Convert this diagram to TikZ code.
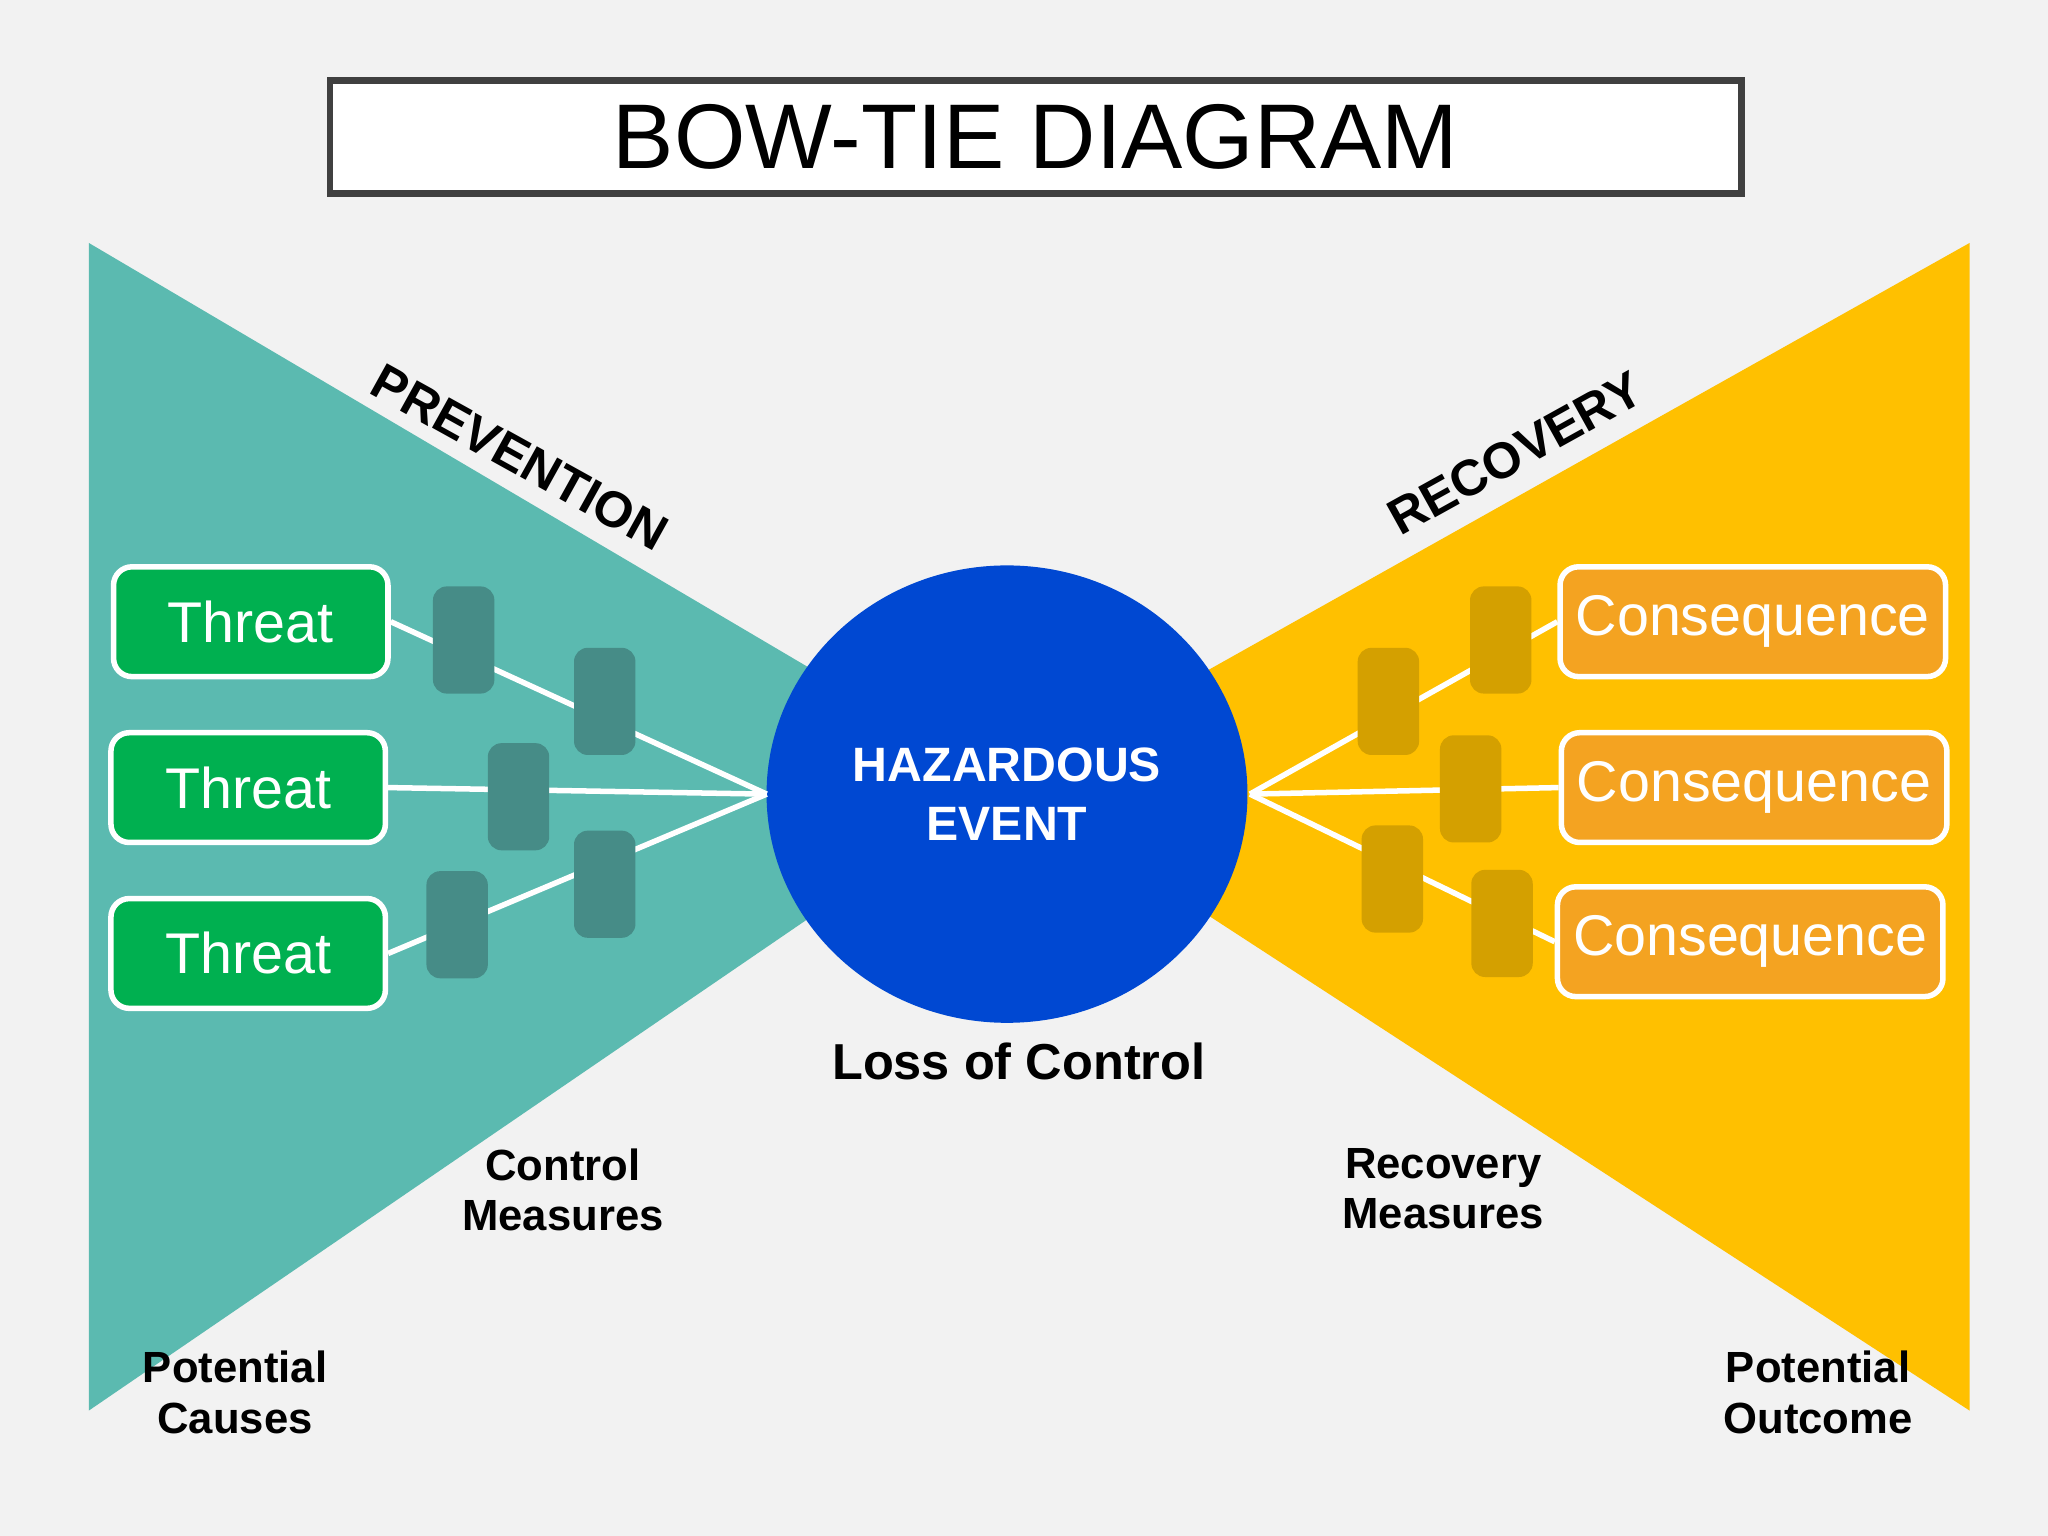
\documentclass[tikz,border=0pt]{standalone}
\usepackage{fontspec}
\setmainfont{Liberation Sans}
\usetikzlibrary{shapes.geometric}
\begin{document}
\begin{tikzpicture}[x=0.01cm,y=-0.01cm,
 box/.style={draw=white,line width=1.2pt,rounded corners=4pt,minimum height=0.84cm,text=white,font=\fontsize{12.5}{14}\selectfont},
 thr/.style={box,fill={rgb,255:red,0;green,176;blue,80},minimum width=2.1cm},
 con/.style={box,fill={rgb,255:red,244;green,163;blue,33},minimum width=2.95cm},
 ctlbox/.style={fill={rgb,255:red,70;green,140;blue,135},rounded corners=3pt,minimum width=0.47cm,minimum height=0.82cm,inner sep=0pt},
 recbox/.style={fill={rgb,255:red,212;green,160;blue,0},rounded corners=3pt,minimum width=0.47cm,minimum height=0.82cm,inner sep=0pt},
 lbl/.style={font=\bfseries\fontsize{9.5}{11}\selectfont,align=center},
 ln/.style={draw=white,line width=1.2pt}]
\fill[fill={rgb,255:red,242;green,242;blue,242}] (0,0) rectangle (1568,1176);
\fill[fill={rgb,255:red,91;green,186;blue,176}] (68,186) -- (770,600) -- (68,1080) -- cycle;
\fill[fill={rgb,255:red,255;green,192;blue,0}] (1508,186) -- (770,600) -- (1508,1080) -- cycle;
\node[draw={rgb,255:red,64;green,64;blue,64},line width=1.5pt,fill=white,minimum width=10.8cm,minimum height=0.86cm,font=\fontsize{20}{22}\selectfont] (title) at (793,105) {BOW-TIE DIAGRAM};
\node[ellipse,fill={rgb,255:red,0;green,72;blue,210},minimum width=3.68cm,minimum height=3.5cm,inner sep=0pt,text=white,font=\bfseries\fontsize{10.5}{13}\selectfont,align=center] (he) at (771,608) {HAZARDOUS\\EVENT};
\node[thr] (t1) at (192,476) {Threat};
\node[thr] (t2) at (190,603) {Threat};
\node[thr] (t3) at (190,730) {Threat};
\node[con] (c1) at (1342,476) {Consequence};
\node[con] (c2) at (1343,603) {Consequence};
\node[con] (c3) at (1340,721) {Consequence};
\coordinate (hw) at (587,608);
\coordinate (hr) at (957,608);
\draw[ln] (t1.east) -- (hw);
\draw[ln] (t2.east) -- (hw);
\draw[ln] (t3.east) -- (hw);
\draw[ln] (c1.west) -- (hr);
\draw[ln] (c2.west) -- (hr);
\draw[ln] (c3.west) -- (hr);
\node[ctlbox] (m1) at (355,490) {};
\node[ctlbox] (m2) at (463,537) {};
\node[ctlbox] (m3) at (397,610) {};
\node[ctlbox] (m4) at (463,677) {};
\node[ctlbox] (m5) at (350,708) {};
\node[recbox] (r1) at (1149,490) {};
\node[recbox] (r2) at (1063,537) {};
\node[recbox] (r3) at (1126,604) {};
\node[recbox] (r4) at (1066,673) {};
\node[recbox] (r5) at (1150,707) {};
\node[lbl,font=\bfseries\fontsize{11}{13}\selectfont,rotate=-29] (pv) at (398,350) {PREVENTION};
\node[lbl,font=\bfseries\fontsize{11}{13}\selectfont,rotate=29] (rc) at (1160,347) {RECOVERY};
\node[lbl,font=\bfseries\fontsize{11}{13}\selectfont] (loc) at (780,813) {Loss of Control};
\node[lbl] (cmL) at (431,911) {Control\\Measures};
\node[lbl] (rmL) at (1105,910) {Recovery\\Measures};
\node[lbl] (pc) at (180,1066) {Potential\\Causes};
\node[lbl] (po) at (1392,1066) {Potential\\Outcome};
\end{tikzpicture}
\end{document}
